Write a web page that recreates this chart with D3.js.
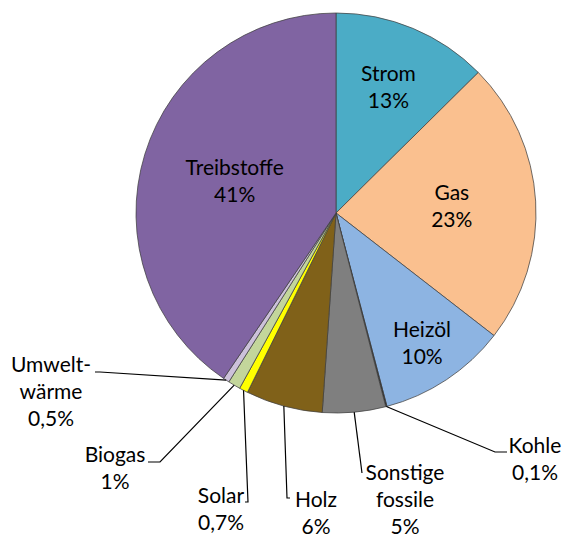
<!DOCTYPE html>
<html>
<head>
<meta charset="utf-8">
<script src="https://cdn.jsdelivr.net/npm/d3@7"></script>
<style>
  body { margin: 0; background: #fff; }
  svg text { font-family: Lato, "Open Sans", sans-serif; font-size: 21px; fill: #000; }
</style>
</head>
<body>
<svg id="chart" width="563" height="534"></svg>
<script>
// Data (shares in %; clockwise from 12 o'clock)
var categories = ["Strom", "Gas", "Heizöl", "Kohle", "Sonstige fossile", "Holz", "Solar", "Biogas", "Umweltwärme", "Treibstoffe"];
var shares = [12.6, 22.9, 10.4, 0.1, 5.1, 6.2, 0.7, 1.0, 0.5, 40.5];
var labelNames = [["Strom"], ["Gas"], ["Heizöl"], ["Kohle"], ["Sonstige", "fossile"], ["Holz"], ["Solar"], ["Biogas"], ["Umwelt-", "wärme"], ["Treibstoffe"]];
var labelPercents = ["13%", "23%", "10%", "0,1%", "5%", "6%", "0,7%", "1%", "0,5%", "41%"];
var colors = ["#4bacc6", "#fac08f", "#8db4e2", "#262626", "#7f7f7f", "#806119", "#ffff00", "#c3d69b", "#ccc1da", "#8064a2"];

var svg = d3.select("#chart");
var cx = 336, cy = 213, radius = 200;
var lineH = 27;

var pie = d3.pie().sort(null).value(d => d);
var arcs = pie(shares);
var arc = d3.arc().innerRadius(0).outerRadius(radius);

var g = svg.append("g").attr("transform", "translate(" + cx + "," + cy + ")");

g.selectAll("path.slice")
  .data(arcs)
  .enter()
  .append("path")
  .attr("class", "slice")
  .attr("d", arc)
  .attr("fill", (d, i) => colors[i])
  .attr("stroke", "#404040")
  .attr("stroke-width", 0.75);

// label layout: inside labels use a radius factor, outside ones get leader lines
// (offsets relative to pie centre)
var inside = { 0: 0.68, 1: 0.58, 2: 0.78, 9: 0.53 };
var outside = {
  3: { pts: [[159, 239], [171, 239]], text: [199, 240] },
  4: { pts: [[26, 260]], text: [69, 267] },
  5: { pts: [[-49, 285], [-46, 285]], text: [-20, 294] },
  6: { pts: [[-88, 289], [-91, 289]], text: [-115, 290] },
  7: { pts: [[-176, 249], [-188, 249]], text: [-221, 249] },
  8: { pts: [[-236, 159], [-241, 159]], text: [-285, 159] }
};

function writeLabel(x, y, lines) {
  var t = g.append("text").attr("text-anchor", "middle");
  lines.forEach((s, k) => {
    t.append("tspan").attr("x", x).attr("y", y + k * lineH).text(s);
  });
}

arcs.forEach((d, i) => {
  var mid = (d.startAngle + d.endAngle) / 2;
  var lines = labelNames[i].concat([labelPercents[i]]);
  if (inside[i] !== undefined) {
    var r = radius * inside[i];
    var x = r * Math.sin(mid), y = -r * Math.cos(mid);
    // centre the block of lines on the point
    writeLabel(x, y - (lines.length - 1) * lineH / 2 + 7, lines);
  } else {
    var o = outside[i];
    var start = [radius * Math.sin(mid), -radius * Math.cos(mid)];
    g.append("path")
      .attr("d", d3.line()([start].concat(o.pts)))
      .attr("fill", "none")
      .attr("stroke", "#000")
      .attr("stroke-width", 1.2);
    writeLabel(o.text[0], o.text[1], lines);
  }
});
</script>
</body>
</html>
